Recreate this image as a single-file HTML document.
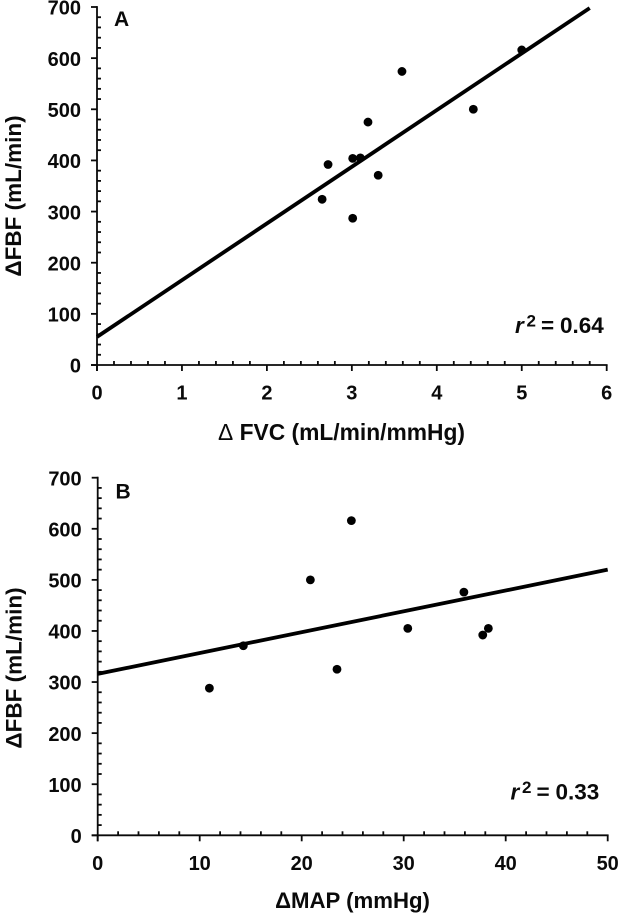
<!DOCTYPE html>
<html lang="en">
<head>
<meta charset="utf-8">
<title>Change in FBF versus FVC and MAP</title>
<style>
html,body{margin:0;padding:0;background:#fff;width:619px;height:914px;overflow:hidden}
svg{display:block;position:absolute;left:0;top:0}
text{font-family:"Liberation Sans",Arial,sans-serif;font-weight:bold;fill:#0a0a0a}
</style>
</head>
<body>
<svg id="chart" width="619" height="914" viewBox="0 0 619 914" xmlns="http://www.w3.org/2000/svg">
  <rect width="619" height="914" fill="#fff"/>
  <g id="panel-a"></g>
  <g id="panel-b"></g>
  <text x="114" y="26" font-size="21">A</text>
  <text x="115.500" y="498.500" font-size="21">B</text>
  <text transform="translate(21,196) rotate(-90)" text-anchor="middle" font-size="22.500">ΔFBF (mL/min)</text>
  <text x="341.500" y="440" text-anchor="middle" font-size="22.800"><tspan font-weight="normal">Δ</tspan> FVC (mL/min/mmHg)</text>
  <text transform="translate(21.500,668) rotate(-90)" text-anchor="middle" font-size="22.500">ΔFBF (mL/min)</text>
  <text x="352.500" y="908" text-anchor="middle" font-size="22.200">ΔMAP (mmHg)</text>
  <text y="333" font-size="22.500"><tspan x="515" font-style="italic">r</tspan><tspan x="526.500" y="326.500" font-size="17">2</tspan><tspan x="541" y="333">=</tspan><tspan x="560">0.64</tspan></text>
  <text y="799.300" font-size="22.500"><tspan x="510.500" font-style="italic">r</tspan><tspan x="522" y="792.800" font-size="17">2</tspan><tspan x="536.500" y="799.300">=</tspan><tspan x="555.500">0.33</tspan></text>
</svg>
<script>
const yTickLabels = [0, 100, 200, 300, 400, 500, 600, 700];

const aXTickLabels = [0, 1, 2, 3, 4, 5, 6];
const aFvc = [5.0, 3.59, 4.43, 3.19, 3.01, 3.10, 2.72, 3.31, 2.65, 3.01];
const aFbf = [616, 574, 500, 475, 404, 405, 392, 371, 324, 287];
const aFitX = [0, 5.8];
const aFitY = [55, 698];

const bXTickLabels = [0, 10, 20, 30, 40, 50];
const bMap = [24.87, 20.85, 35.9, 30.4, 38.3, 37.75, 14.28, 23.46, 10.95];
const bFbf = [616, 500, 476, 405, 405, 392, 371, 325, 288];
const bFitX = [0, 50];
const bFitY = [316, 520];

const NS = 'http://www.w3.org/2000/svg';

function make(parent, tag, attrs) {
  const el = document.createElementNS(NS, tag);
  for (const k in attrs) el.setAttribute(k, attrs[k]);
  parent.appendChild(el);
  return el;
}

function drawPanel(opts) {
  const g = document.getElementById(opts.id);
  const xMax = opts.xTicks[opts.xTicks.length - 1];
  const yMax = yTickLabels[yTickLabels.length - 1];
  const sx = function (v) { return opts.left + (v - opts.xTicks[0]) / (xMax - opts.xTicks[0]) * (opts.right - opts.left); };
  const sy = function (v) { return opts.bottom - v / yMax * (opts.bottom - opts.top); };
  const axisStyle = { stroke: '#0a0a0a', 'stroke-width': 1.8, fill: 'none' };

  const xAxis = make(g, 'line', Object.assign({ x1: sx(opts.xTicks[0]) - 6, x2: sx(xMax) + 0.9, y1: sy(0), y2: sy(0) }, axisStyle));
  
  
  const yAxis = make(g, 'line', Object.assign({ x1: sx(opts.xTicks[0]), x2: sx(opts.xTicks[0]), y1: sy(0) + 6, y2: sy(yMax) - 0.9 }, axisStyle));
  
  

  opts.xTicks.forEach(function (t, i) {
    const major = make(g, 'line', Object.assign({ x1: sx(t), x2: sx(t), y1: sy(0), y2: sy(0) + 6 }, axisStyle));
    
    
    const lab = make(g, 'text', { x: sx(t), y: opts.bottom + 34.7, 'text-anchor': 'middle', 'font-size': 20 });
    lab.textContent = t;
    
    
    if (i < opts.xTicks.length - 1) {
      const step = opts.xTicks[i + 1] - t;
      for (let m = 1; m < 5; m++) {
        const mx = sx(t + step * m / 5);
        const minor = make(g, 'line', Object.assign({ x1: mx, x2: mx, y1: sy(0) - 4, y2: sy(0) }, axisStyle));
        
        
      }
    }
  });

  yTickLabels.forEach(function (t, i) {
    const major = make(g, 'line', Object.assign({ x1: sx(opts.xTicks[0]) - 6, x2: sx(opts.xTicks[0]), y1: sy(t), y2: sy(t) }, axisStyle));
    
    
    const lab = make(g, 'text', { x: opts.left - 16, y: sy(t) + opts.yLabelShift, 'text-anchor': 'end', 'font-size': 20 });
    lab.textContent = t;
    
    
    if (i < yTickLabels.length - 1) {
      const step = yTickLabels[i + 1] - t;
      for (let m = 1; m < 5; m++) {
        const my = sy(t + step * m / 5);
        const minor = make(g, 'line', Object.assign({ x1: sx(opts.xTicks[0]), x2: sx(opts.xTicks[0]) + 4, y1: my, y2: my }, axisStyle));
        
        
      }
    }
  });

  const fit = make(g, 'line', { x1: sx(opts.fitX[0]), y1: sy(opts.fitY[0]), x2: sx(opts.fitX[1]), y2: sy(opts.fitY[1]), stroke: '#000', 'stroke-width': 3.8 });
  
  

  opts.xs.forEach(function (x, i) {
    const dot = make(g, 'circle', { cx: sx(x), cy: sy(opts.ys[i]), r: 4.4, fill: '#000' });
    
    
  });
}

drawPanel({ id: 'panel-a', left: 97, right: 606.7, top: 7, bottom: 365, yLabelShift: 7.7, xTicks: aXTickLabels, xs: aFvc, ys: aFbf, fitX: aFitX, fitY: aFitY });
drawPanel({ id: 'panel-b', left: 97.7, right: 607.7, top: 477.7, bottom: 835.3, yLabelShift: 7.7, xTicks: bXTickLabels, xs: bMap, ys: bFbf, fitX: bFitX, fitY: bFitY });
</script>
</body>
</html>
